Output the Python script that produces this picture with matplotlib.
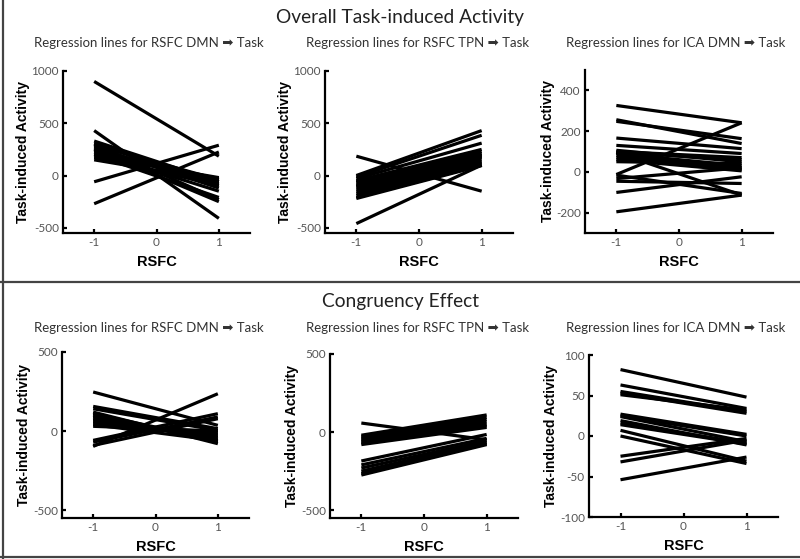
import matplotlib.pyplot as plt
from matplotlib.lines import Line2D

# x positions of the regression line endpoints (standardised RSFC)
RSFC_ENDS = [-1, 1]

# predicted task activity at RSFC = -1 and RSFC = +1, one entry per subject
overall_dmn_lo = [900, 430, -60, -270, 330, 310, 300, 290, 275, 260, 250, 240, 225, 210, 200, 185, 170, 150]
overall_dmn_hi = [185, -410, 290, 225, -60, -100, -230, -40, -120, -80, -250, -60, -150, -30, -210, -20, -90, -50]

overall_tpn_lo = [185, -460, 0, -15, -30, -50, -70, -90, -110, -130, -150, -170, -190, -210, -220, -60, -100]
overall_tpn_hi = [-150, 100, 430, 385, 310, 250, 230, 210, 190, 170, 150, 130, 120, 100, 95, 200, 180]

overall_ica_lo = [326, 256, 248, 166, 130, 106, 100, 95, 90, 80, 70, 60, 50, -13, -16, -33, -46, -101, -196, 95]
overall_ica_hi = [241, 139, 163, 114, 90, 49, 70, 60, 30, 20, 10, 5, 40, 241, -106, 20, -57, -24, -114, -114]

congr_dmn_lo = [247, 156, 141, -97, -59, -70, -91, 120, 110, 100, 90, 80, 70, 60, 50, 40, 30]
congr_dmn_hi = [36, 15, 4, 236, 110, 89, 78, -80, -60, -70, -50, -40, -30, -20, -10, -60, 0]

congr_tpn_lo = [58, -20, -30, -40, -50, -60, -70, -80, -185, -210, -230, -250, -265, -275]
congr_tpn_hi = [-49, 110, 95, 80, 65, 50, 40, 30, -15, -40, -55, -65, -75, -80]

congr_ica_lo = [82, 63, 55, 53, 51, 27, 25, 24, 19, 16, 14, 7, 0, -25, -32, -54]
congr_ica_hi = [48, 34, 30, 28, 32, 2, 0, -7, -11, -9, -10, -31, -34, -3, -5, -26]

ARROW = "\u27a1"
SUBTITLES = [
    f"Regression lines for RSFC DMN {ARROW} Task",
    f"Regression lines for RSFC TPN {ARROW} Task",
    f"Regression lines for ICA DMN {ARROW} Task",
]

TITLE_FONT = ["Lato", "DejaVu Sans"]
W, H = 800, 559


def fig_rect(x0, y_top, x1, y_bot):
    """pixel box (y from top) -> figure fraction rect"""
    return [x0 / W, 1 - y_bot / H, (x1 - x0) / W, (y_bot - y_top) / H]


def draw_panel(fig, rect, lo, hi, ylim, yticks):
    ax = fig.add_axes(rect)
    for a, b in zip(lo, hi):
        ax.plot(RSFC_ENDS, [a, b], color="black", lw=2.3, solid_capstyle="butt")
    ax.set_xlim(-1.5, 1.5)
    ax.set_ylim(*ylim)
    ax.set_xticks([-1, 0, 1])
    ax.set_xticklabels(["-1", "0", "1"])
    ax.set_yticks(yticks)
    ax.set_yticklabels([str(t) for t in yticks])
    for s in ("top", "right"):
        ax.spines[s].set_visible(False)
    for s in ("left", "bottom"):
        ax.spines[s].set_linewidth(1.6)
    ax.tick_params(direction="in", length=3, width=1.6, labelsize=8.5,
                   labelcolor="#555555", pad=3)
    for lab in ax.get_xticklabels() + ax.get_yticklabels():
        lab.set_family(TITLE_FONT)
    ax.set_xlabel("RSFC", fontsize=10.5, fontweight="bold",
                  family="Liberation Sans", labelpad=5)
    ax.set_ylabel("Task-induced Activity", fontsize=10, fontweight="bold",
                  family="Liberation Sans", labelpad=1)
    return ax


fig = plt.figure(figsize=(8, 5.59), dpi=100)

# top row: overall task-induced activity
draw_panel(fig, fig_rect(63, 71, 250, 233), overall_dmn_lo, overall_dmn_hi,
           (-550, 1000), [-500, 0, 500, 1000])
draw_panel(fig, fig_rect(325, 71, 513, 233), overall_tpn_lo, overall_tpn_hi,
           (-550, 1000), [-500, 0, 500, 1000])
draw_panel(fig, fig_rect(585, 70, 773, 233), overall_ica_lo, overall_ica_hi,
           (-300, 500), [-200, 0, 200, 400])

# bottom row: congruency effect
draw_panel(fig, fig_rect(62, 352, 249, 518), congr_dmn_lo, congr_dmn_hi,
           (-550, 500), [-500, 0, 500])
draw_panel(fig, fig_rect(330, 354, 518, 518), congr_tpn_lo, congr_tpn_hi,
           (-550, 500), [-500, 0, 500])
draw_panel(fig, fig_rect(589, 355, 778, 517), congr_ica_lo, congr_ica_hi,
           (-100, 100), [-100, -50, 0, 50, 100])

# headings
fig.text(400 / W, 1 - 17 / H, "Overall Task-induced Activity", ha="center",
         va="center", fontsize=13.8, family=TITLE_FONT, color="#222222")
fig.text(400 / W, 1 - 302 / H, "Congruency Effect", ha="center",
         va="center", fontsize=13.8, family=TITLE_FONT, color="#222222")
for row_y in (43, 328):
    for cx, txt in zip((149, 418, 676), SUBTITLES):
        fig.text(cx / W, 1 - row_y / H, txt, ha="center", va="center",
                 fontsize=9.5, family=TITLE_FONT, color="#333333")

# frame lines separating the two sections
frame_kw = dict(color="#444444", lw=1.6, transform=fig.transFigure)
fig.add_artist(Line2D([3 / W, 3 / W], [0, 1], **frame_kw))
fig.add_artist(Line2D([0, 1], [1 - 282 / H, 1 - 282 / H], **frame_kw))
fig.add_artist(Line2D([0, 1], [1 - 557 / H, 1 - 557 / H], **frame_kw))

fig.savefig("out.png", dpi=100)
